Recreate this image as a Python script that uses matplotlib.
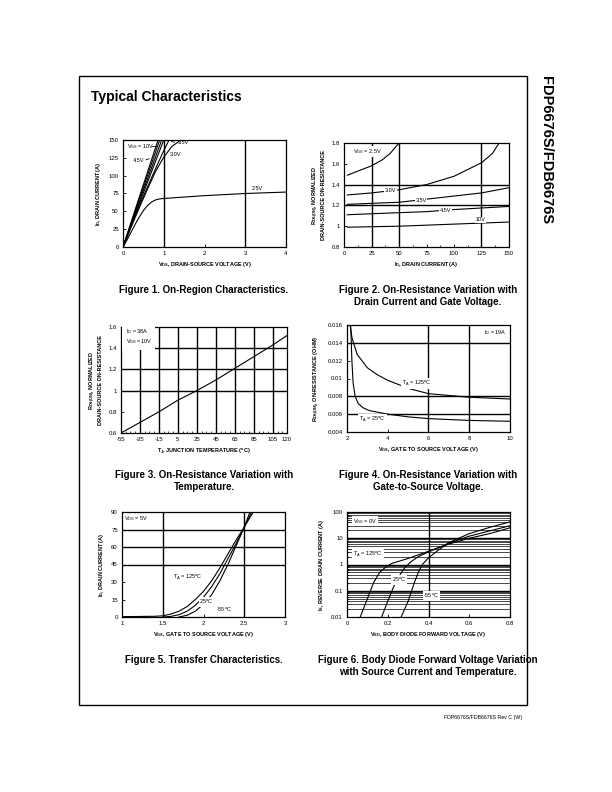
import matplotlib
matplotlib.use("Agg")
import matplotlib.pyplot as plt
import matplotlib.patches as mpatches
from matplotlib.ticker import MultipleLocator, FixedLocator, NullFormatter

plt.rcParams['font.family'] = ['Liberation Sans', 'DejaVu Sans']
plt.rcParams['mathtext.fontset'] = 'custom'
plt.rcParams['mathtext.rm'] = 'Liberation Sans'
plt.rcParams['mathtext.it'] = 'Liberation Sans'
plt.rcParams['mathtext.bf'] = 'Liberation Sans:bold'
plt.rcParams['axes.unicode_minus'] = False

# ---------------- data ----------------
# Fig 1 on-region: VDS (V) vs ID (A)
f1_10v_x = [0, 0.4, 0.86];   f1_10v_y = [0, 70, 150]
f1_6v_x = [0, 0.4, 0.9];     f1_6v_y = [0, 67, 150]
f1_45v_x = [0, 0.4, 0.95];   f1_45v_y = [0, 64, 150]
f1_4v_x = [0, 0.4, 1.0];     f1_4v_y = [0, 61, 150]
f1_35v_x = [0, 0.4, 0.8, 1.0, 1.13];  f1_35v_y = [0, 58, 110, 135, 150]
f1_3v_x = [0, 0.2, 0.4, 0.6, 0.8, 1.0, 1.2, 1.42]
f1_3v_y = [0, 28, 55, 81, 106, 126, 141, 150]
f1_25v_x = [0, 0.1, 0.2, 0.3, 0.4, 0.5, 0.6, 0.7, 0.8, 0.9, 1.0, 1.5, 2, 3, 4]
f1_25v_y = [0, 10, 21, 32, 42, 51, 58, 63, 66, 67.5, 68, 70, 72, 75, 77]

# Fig 2 normalized RDS(on) vs ID for several VGS
f2_id = [3, 25, 50, 75, 100, 125, 150]
f2_25v_x = [3, 15, 25, 35, 42, 50];  f2_25v_y = [1.49, 1.54, 1.58, 1.64, 1.70, 1.80]
f2_30v_x = [3, 25, 50, 75, 100, 125, 135, 141]
f2_30v_y = [1.30, 1.32, 1.35, 1.40, 1.48, 1.61, 1.70, 1.80]
f2_35v = [1.21, 1.22, 1.23, 1.26, 1.29, 1.32, 1.37]
f2_45v = [1.11, 1.12, 1.13, 1.14, 1.16, 1.175, 1.19]
f2_10v = [0.99, 0.995, 1.0, 1.01, 1.02, 1.03, 1.04]

# Fig 3 normalized RDS(on) vs junction temperature
f3_tj = [-55, -35, -15, 5, 25, 45, 65, 85, 105, 120]
f3_rds = [0.60, 0.70, 0.80, 0.91, 1.00, 1.10, 1.21, 1.32, 1.43, 1.52]

# Fig 4 RDS(on) vs VGS
f4_125_x = [2.15, 2.25, 2.5, 3, 3.5, 4, 5, 6, 7, 8, 10]
f4_125_y = [0.016, 0.0145, 0.0127, 0.0112, 0.0104, 0.0098, 0.0089, 0.0083, 0.0081, 0.0079, 0.0077]
f4_25_x = [2.18, 2.24, 2.3, 2.4, 2.55, 2.8, 3.1, 4, 5, 6, 8, 10]
f4_25_y = [0.016, 0.012, 0.0095, 0.0080, 0.0072, 0.0067, 0.0064, 0.0060, 0.0057, 0.0055, 0.0053, 0.0052]

# Fig 5 transfer characteristics
f5_125_x = [1.0, 1.4, 1.5, 1.6, 1.7, 1.8, 1.9, 2.0, 2.1, 2.2, 2.3, 2.4, 2.5, 2.61]
f5_125_y = [0.3, 0.6, 1.0, 2.5, 5, 9, 15, 22, 31, 42, 54, 66, 77, 90]
f5_25_x = [1.5, 1.6, 1.7, 1.8, 1.9, 2.0, 2.1, 2.2, 2.3, 2.4, 2.5, 2.59]
f5_25_y = [0, 0.5, 2, 5, 10, 17, 26, 37, 50, 63, 77, 90]
f5_m55_x = [1.7, 1.8, 1.9, 2.0, 2.1, 2.2, 2.3, 2.4, 2.5, 2.57]
f5_m55_y = [0, 1.5, 5, 11, 19, 31, 45, 61, 77, 90]

# Fig 6 body diode forward voltage
f6_125_x = [0.065, 0.1, 0.13, 0.16, 0.19, 0.22, 0.3, 0.4, 0.5, 0.6, 0.7, 0.8]
f6_125_y = [0.01, 0.05, 0.2, 0.5, 0.8, 1.1, 1.7, 3.2, 6.0, 10, 15, 25]
f6_25_x = [0.17, 0.2, 0.23, 0.26, 0.28, 0.31, 0.35, 0.4, 0.5, 0.6, 0.7, 0.8]
f6_25_y = [0.01, 0.04, 0.15, 0.4, 0.7, 1.2, 2.0, 3.0, 6.5, 12, 19, 30]
f6_m55_x = [0.266, 0.3, 0.33, 0.35, 0.37, 0.4, 0.45, 0.5, 0.6, 0.7, 0.8]
f6_m55_y = [0.01, 0.04, 0.2, 0.5, 1.0, 1.8, 3.6, 6.8, 15, 26, 42]

W, H = 612, 792
fig = plt.figure(figsize=(W / 100, H / 100), dpi=100)


def box(l, t, r, b):
    return [l / W, 1 - b / H, (r - l) / W, (b - t) / H]


TICK_FS = 4.3
LAB_FS = 4.0
CURVE_LW = 0.8
GRID_LW = 1.0
WBOX = dict(facecolor='white', edgecolor='none', pad=0.6)


def setup(ax):
    for s in ax.spines.values():
        s.set_linewidth(0.9)
    ax.tick_params(direction='in', labelsize=TICK_FS, length=2.5, width=0.6, pad=3)
    ax.tick_params(which='minor', direction='in', length=1.5, width=0.5)


def vgrid(ax, xs):
    for v in xs:
        ax.axvline(v, color='black', lw=GRID_LW, zorder=1)


def hgrid(ax, ys):
    for v in ys:
        ax.axhline(v, color='black', lw=GRID_LW, zorder=1)


def note(ax, x, y, s, **kw):
    ax.text(x, y, s, fontsize=LAB_FS, bbox=WBOX, zorder=4, **kw)


# ---------------- Figure 1 ----------------
ax1 = fig.add_axes(box(123, 140, 286, 247))
setup(ax1)
vgrid(ax1, [1, 3])
for xs, ys in [(f1_10v_x, f1_10v_y), (f1_6v_x, f1_6v_y), (f1_45v_x, f1_45v_y),
               (f1_4v_x, f1_4v_y), (f1_35v_x, f1_35v_y), (f1_3v_x, f1_3v_y),
               (f1_25v_x, f1_25v_y)]:
    ax1.plot(xs, ys, color='black', lw=CURVE_LW, zorder=3)
ax1.set_xlim(0, 4)
ax1.set_ylim(0, 150)
ax1.set_xticks([0, 1, 2, 3, 4])
ax1.set_yticks([0, 25, 50, 75, 100, 125, 150])
ax1.text(0.1, 141, r"V$_{GS}$ = 10V", fontsize=LAB_FS, va='center', zorder=4)
ax1.plot([0.7, 0.8], [141, 141], color='black', lw=0.6)
ax1.text(0.25, 121, "4.5V", fontsize=LAB_FS, va='center', zorder=4)
ax1.annotate("", xy=(0.71, 125), xytext=(0.5, 121),
             arrowprops=dict(arrowstyle='-', lw=0.6))
ax1.text(1.35, 146, "3.5V", fontsize=LAB_FS, va='center', zorder=4)
ax1.annotate("", xy=(1.12, 149), xytext=(1.33, 146),
             arrowprops=dict(arrowstyle='-', lw=0.6))
ax1.text(1.15, 130, "3.0V", fontsize=LAB_FS, va='center', zorder=4)
ax1.text(3.15, 82, "2.5V", fontsize=LAB_FS, va='center', zorder=4)
ax1.set_xlabel(r"V$_{\mathbf{DS}}$, DRAIN-SOURCE VOLTAGE (V)", fontsize=LAB_FS,
               fontweight='bold', labelpad=3)
ax1.set_ylabel(r"I$_{\mathbf{D}}$, DRAIN CURRENT (A)", fontsize=LAB_FS,
               fontweight='bold', labelpad=4)

# ---------------- Figure 2 ----------------
ax2 = fig.add_axes(box(344, 143, 509, 247))
setup(ax2)
vgrid(ax2, [25, 50, 125])
hgrid(ax2, [1.2, 1.4])
ax2.plot(f2_25v_x, f2_25v_y, color='black', lw=CURVE_LW, zorder=3)
ax2.plot(f2_30v_x, f2_30v_y, color='black', lw=CURVE_LW, zorder=3)
for ys in [f2_35v, f2_45v, f2_10v]:
    ax2.plot(f2_id, ys, color='black', lw=CURVE_LW, zorder=3)
ax2.set_xlim(0, 150)
ax2.set_ylim(0.8, 1.8)
ax2.set_xticks([0, 25, 50, 75, 100, 125, 150])
ax2.set_yticks([0.8, 1.0, 1.2, 1.4, 1.6, 1.8])
ax2.set_yticklabels(["0.8", "1", "1.2", "1.4", "1.6", "1.8"])
ax2.xaxis.set_minor_locator(MultipleLocator(12.5))
note(ax2, 8, 1.72, r"V$_{GS}$ = 2.5V", va='center')
note(ax2, 42, 1.34, "3.0V", va='center', ha='center')
note(ax2, 70, 1.245, "3.5V", va='center', ha='center')
note(ax2, 92, 1.155, "4.5V", va='center', ha='center')
note(ax2, 124, 1.06, "10V", va='center', ha='center')
ax2.set_xlabel(r"I$_{\mathbf{D}}$, DRAIN CURRENT (A)", fontsize=LAB_FS,
               fontweight='bold', labelpad=3)
ax2.set_ylabel("R$_{\\mathbf{DS(ON)}}$, NORMALIZED\nDRAIN-SOURCE ON-RESISTANCE",
               fontsize=LAB_FS, fontweight='bold', labelpad=4, linespacing=1.1)

# ---------------- Figure 3 ----------------
ax3 = fig.add_axes(box(121, 327, 287, 433))
setup(ax3)
vgrid(ax3, [-35, -15, 5, 25, 45, 65, 85, 105])
hgrid(ax3, [1.0, 1.2, 1.4])
ax3.plot(f3_tj, f3_rds, color='black', lw=CURVE_LW, zorder=3)
ax3.set_xlim(-55, 120)
ax3.set_ylim(0.6, 1.6)
ax3.set_xticks(f3_tj)
ax3.set_yticks([0.6, 0.8, 1.0, 1.2, 1.4, 1.6])
ax3.set_yticklabels(["0.6", "0.8", "1", "1.2", "1.4", "1.6"])
ax3.xaxis.set_minor_locator(MultipleLocator(5))
ax3.text(-50, 1.51, "I$_D$ = 38A\nV$_{GS}$ =10V", fontsize=LAB_FS, va='center',
         linespacing=1.3, zorder=4,
         bbox=dict(facecolor='white', edgecolor='none', pad=2.5))
ax3.set_xlabel(r"T$_{\mathbf{J}}$, JUNCTION TEMPERATURE ($\mathbf{^o}$C)",
               fontsize=LAB_FS, fontweight='bold', labelpad=3)
ax3.set_ylabel("R$_{\\mathbf{DS(ON)}}$, NORMALIZED\nDRAIN-SOURCE ON-RESISTANCE",
               fontsize=LAB_FS, fontweight='bold', labelpad=4, linespacing=1.1)

# ---------------- Figure 4 ----------------
ax4 = fig.add_axes(box(347, 325, 510, 432))
setup(ax4)
vgrid(ax4, [6, 8])
hgrid(ax4, [0.006, 0.008, 0.014])
ax4.plot(f4_125_x, f4_125_y, color='black', lw=CURVE_LW, zorder=3)
ax4.plot(f4_25_x, f4_25_y, color='black', lw=CURVE_LW, zorder=3)
ax4.set_xlim(2, 10)
ax4.set_ylim(0.004, 0.016)
ax4.set_xticks([2, 4, 6, 8, 10])
ax4.set_yticks([0.004, 0.006, 0.008, 0.010, 0.012, 0.014, 0.016])
ax4.set_yticklabels(["0.004", "0.006", "0.008", "0.01", "0.012", "0.014", "0.016"])
note(ax4, 8.7, 0.0151, r"I$_D$ = 19A", va='center')
note(ax4, 4.7, 0.0094, r"T$_A$ = 125$^o$C", va='center')
note(ax4, 2.6, 0.0054, r"T$_A$ = 25$^o$C", va='center')
ax4.set_xlabel(r"V$_{\mathbf{GS}}$, GATE TO SOURCE VOLTAGE (V)", fontsize=LAB_FS,
               fontweight='bold', labelpad=3)
ax4.set_ylabel(r"R$_{\mathbf{DS(ON)}}$, ON-RESISTANCE (OHM)", fontsize=LAB_FS,
               fontweight='bold', labelpad=4)

# ---------------- Figure 5 ----------------
ax5 = fig.add_axes(box(122, 512, 285, 617))
setup(ax5)
vgrid(ax5, [1.5, 2.5])
hgrid(ax5, [45, 60, 75])
for xs, ys in [(f5_125_x, f5_125_y), (f5_25_x, f5_25_y), (f5_m55_x, f5_m55_y)]:
    ax5.plot(xs, ys, color='black', lw=CURVE_LW, zorder=3)
ax5.set_xlim(1, 3)
ax5.set_ylim(0, 90)
ax5.set_xticks([1, 1.5, 2, 2.5, 3])
ax5.set_xticklabels(["1", "1.5", "2", "2.5", "3"])
ax5.set_yticks([0, 15, 30, 45, 60, 75, 90])
note(ax5, 1.03, 84, r"V$_{DS}$ = 5V", va='center')
note(ax5, 1.63, 34, r"T$_A$ = 125$^o$C", va='center')
note(ax5, 1.95, 13, r"25$^o$C", va='center')
note(ax5, 2.15, 6, r"-55$^o$C", va='center')
ax5.set_xlabel(r"V$_{\mathbf{GS}}$, GATE TO SOURCE VOLTAGE (V)", fontsize=LAB_FS,
               fontweight='bold', labelpad=3)
ax5.set_ylabel(r"I$_{\mathbf{D}}$, DRAIN CURRENT (A)", fontsize=LAB_FS,
               fontweight='bold', labelpad=4)

# ---------------- Figure 6 ----------------
ax6 = fig.add_axes(box(347, 512, 510, 617))
setup(ax6)
ax6.set_yscale('log')
ax6.set_xlim(0, 0.8)
ax6.set_ylim(0.01, 100)
minors = [m * 10.0 ** e for e in range(-2, 2) for m in range(2, 10)]
hgrid(ax6, [0.1, 1, 10])
for v in minors:
    ax6.axhline(v, color='black', lw=0.5, zorder=1)
vgrid(ax6, [0.4])
for xs, ys in [(f6_125_x, f6_125_y), (f6_25_x, f6_25_y), (f6_m55_x, f6_m55_y)]:
    ax6.plot(xs, ys, color='black', lw=CURVE_LW, zorder=3)
ax6.set_xticks([0, 0.2, 0.4, 0.6, 0.8])
ax6.set_xticklabels(["0", "0.2", "0.4", "0.6", "0.8"])
ax6.yaxis.set_major_locator(FixedLocator([0.01, 0.1, 1, 10, 100]))
ax6.set_yticklabels(["0.01", "0.1", "1", "10", "100"])
ax6.yaxis.set_minor_formatter(NullFormatter())
note(ax6, 0.03, 45, r"V$_{GS}$ = 0V", va='center')
note(ax6, 0.03, 2.4, r"T$_A$ = 125$^o$C", va='center')
note(ax6, 0.22, 0.25, r"25$^o$C", va='center')
note(ax6, 0.375, 0.065, r"-55$^o$C", va='center')
ax6.set_xlabel(r"V$_{\mathbf{SD}}$, BODY DIODE FORWARD VOLTAGE (V)", fontsize=LAB_FS,
               fontweight='bold', labelpad=3)
ax6.set_ylabel(r"I$_{\mathbf{S}}$, REVERSE DRAIN CURRENT (A)", fontsize=LAB_FS,
               fontweight='bold', labelpad=4)

# ---------------- page furniture ----------------
frame = mpatches.Rectangle((79 / W, 1 - 705 / H), (527 - 79) / W, (705 - 76) / H,
                           transform=fig.transFigure, fill=False, lw=1.0,
                           edgecolor='black')
fig.patches.append(frame)

fig.text(91 / W, 1 - 97 / H, "Typical Characteristics", fontsize=10,
         fontweight='bold', va='center', ha='left')
fig.text(546 / W, 1 - 76 / H, "FDP6676S/FDB6676S", fontsize=10.5,
         fontweight='bold', rotation=-90, va='top', ha='center')
fig.text(522 / W, 1 - 717 / H, "FDP6676S/FDB6676S Rev C (W)", fontsize=3.8,
         va='center', ha='right')

CAP_FS = 7
fig.text(204 / W, 1 - 290 / H, "Figure 1. On-Region Characteristics.",
         fontsize=CAP_FS, fontweight='bold', ha='center', va='center')
fig.text(428 / W, 1 - 290 / H, "Figure 2. On-Resistance Variation with",
         fontsize=CAP_FS, fontweight='bold', ha='center', va='center')
fig.text(428 / W, 1 - 302 / H, "Drain Current and Gate Voltage.",
         fontsize=CAP_FS, fontweight='bold', ha='center', va='center')
fig.text(204 / W, 1 - 475 / H, "Figure 3. On-Resistance Variation with",
         fontsize=CAP_FS, fontweight='bold', ha='center', va='center')
fig.text(204 / W, 1 - 487 / H, "Temperature.",
         fontsize=CAP_FS, fontweight='bold', ha='center', va='center')
fig.text(428 / W, 1 - 475 / H, "Figure 4. On-Resistance Variation with",
         fontsize=CAP_FS, fontweight='bold', ha='center', va='center')
fig.text(428 / W, 1 - 487 / H, "Gate-to-Source Voltage.",
         fontsize=CAP_FS, fontweight='bold', ha='center', va='center')
fig.text(204 / W, 1 - 660 / H, "Figure 5. Transfer Characteristics.",
         fontsize=CAP_FS, fontweight='bold', ha='center', va='center')
fig.text(428 / W, 1 - 660 / H, "Figure 6. Body Diode Forward Voltage Variation",
         fontsize=CAP_FS, fontweight='bold', ha='center', va='center')
fig.text(428 / W, 1 - 672 / H, "with Source Current and Temperature.",
         fontsize=CAP_FS, fontweight='bold', ha='center', va='center')

fig.savefig("out.png", dpi=100)
